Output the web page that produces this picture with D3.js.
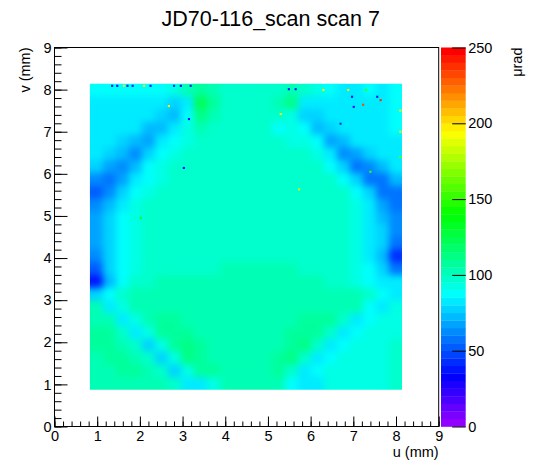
<!DOCTYPE html>
<html>
<head>
<meta charset="utf-8">
<script src="https://cdn.jsdelivr.net/npm/d3@7"></script>
<style>
body { margin: 0; background: #fff; }
text { font-family: "Liberation Sans", Arial, Helvetica, sans-serif; }
</style>
</head>
<body>
<script>
// histogram extent (mm) and coarse bin contents (urad), rows from top (high v) to bottom
var uRange = [0.83, 8.14];
var vRange = [0.87, 8.14];
var rows = [
  [86,86,87,87,88,89,92,100,108,102,97,96,96,96,98,100,96,90,86,84,84,85,84,88],
  [84,84,84,83,82,82,78,82,122,108,98,97,97,97,100,110,80,80,82,82,83,82,83,86],
  [83,82,82,82,80,77,72,86,112,102,97,97,97,97,95,92,75,78,82,82,82,83,82,86],
  [83,82,81,80,74,70,82,90,100,99,97,97,97,97,86,92,88,72,76,80,82,82,82,85],
  [82,80,78,72,66,80,88,94,97,97,97,97,97,97,96,94,90,85,68,72,80,82,82,84],
  [80,77,70,63,76,86,92,96,97,97,97,97,97,97,97,96,95,90,84,62,66,78,80,82],
  [75,68,60,74,85,92,95,97,97,97,97,97,97,97,97,97,96,95,88,76,58,62,74,80],
  [62,56,66,80,88,94,96,97,97,97,97,97,97,97,97,97,97,96,95,88,78,56,58,70],
  [54,64,78,86,92,96,97,97,97,97,97,97,97,97,97,97,97,97,96,95,88,76,56,58],
  [60,74,84,90,95,97,97,97,97,97,97,97,97,97,97,97,97,97,97,96,93,84,66,58],
  [66,78,86,92,96,97,98,98,98,98,98,98,98,98,98,98,98,98,97,96,92,84,72,60],
  [68,78,86,92,96,98,98,98,98,98,98,98,98,98,98,98,98,98,97,96,90,84,76,62],
  [66,78,86,92,96,98,98,98,98,98,98,98,98,98,98,98,98,98,97,95,90,84,76,56],
  [64,78,87,93,96,98,98,99,99,99,99,99,99,99,99,99,99,98,97,95,91,84,72,44],
  [52,76,87,94,97,99,99,99,99,99,100,100,100,100,100,100,99,99,98,96,92,85,76,56],
  [38,74,86,95,98,100,100,100,100,100,100,100,100,100,100,100,100,100,99,97,93,85,84,80],
  [78,88,98,100,101,101,101,101,101,101,101,101,101,101,101,101,102,102,101,100,100,96,85,84],
  [100,80,92,103,104,104,103,102,102,101,101,101,101,101,101,102,103,104,104,104,102,86,84,90],
  [104,100,80,90,104,106,106,104,102,101,101,101,101,101,102,104,105,105,106,96,84,88,90,92],
  [105,105,98,80,90,106,108,106,103,101,101,101,101,101,102,105,108,108,98,84,88,90,92,94],
  [105,106,104,96,79,90,108,110,106,102,101,101,101,101,103,108,110,98,83,88,90,92,93,95],
  [104,105,106,104,95,78,90,110,108,103,101,101,101,102,105,110,96,83,88,90,92,93,94,95],
  [104,104,105,105,104,95,76,90,108,106,102,101,101,103,106,98,82,88,90,91,92,93,94,95],
  [102,102,103,103,103,102,96,80,82,92,100,102,102,102,100,88,80,84,90,92,93,94,94,95]
];
// isolated noisy pixels: u, v, value
var hotU = [1.35,1.47,1.63,1.71,1.83,2.10,2.25,2.80,2.96,3.19,3.15,3.03,2.02,2.68,5.49,5.65,6.30,6.88,6.97,7.23,7.64,7.30,5.30,5.73,7.56,7.01,6.70,7.40,8.10,8.10,8.10];
var hotV = [8.09,8.09,8.09,8.09,8.09,8.09,8.09,8.09,8.09,8.09,7.30,6.14,4.95,7.61,8.01,8.01,7.99,7.99,7.83,7.64,7.75,7.99,7.42,5.63,7.83,7.59,7.19,6.05,7.50,7.00,6.40];
var hotZ = [35,30,190,35,35,195,35,40,30,35,35,35,140,190,35,35,190,195,35,230,235,150,190,180,35,20,40,150,190,195,160];

var xTicks = [0,1,2,3,4,5,6,7,8,9];
var yTicks = [0,1,2,3,4,5,6,7,8,9];
var zTicks = [0,50,100,150,200,250];
var zMax = 250, nColors = 50;

var W = 548, H = 474;
var svg = d3.select('body').append('svg')
  .attr('width', W)
  .attr('height', H);

var x = d3.scaleLinear().domain([0, 9]).range([54.5, 438.7]);
var y = d3.scaleLinear().domain([0, 9]).range([426.5, 47.5]);
var z = d3.scaleLinear().domain([0, zMax]).range([426.5, 47.5]);

// ROOT "pretty" palette: 50 hues from violet down to red
var palette = d3.range(nColors).map(function(i){
  return d3.hsl(280 - (i + 1) * 280 / nColors, 1, 0.5).formatHex();
});
var colorOf = function(v){
  var i = Math.floor(v / zMax * nColors);
  return palette[Math.max(0, Math.min(nColors - 1, i))];
};

var nU = rows[0].length, nV = rows.length;
var binU = d3.scaleLinear().domain([0, nU]).range(uRange);
var binV = d3.scaleLinear().domain([0, nV]).range([vRange[1], vRange[0]]);

var cells = [];
rows.forEach(function(row, r){
  row.forEach(function(val, c){
    cells.push({u0: binU(c), u1: binU(c + 1), v0: binV(r + 1), v1: binV(r), z: val});
  });
});

// soften the coarse bins a little, kept inside the filled area
var defs = svg.append('defs');
defs.append('clipPath').attr('id', 'dataClip').append('rect')
  .attr('x', x(uRange[0])).attr('y', y(vRange[1]))
  .attr('width', x(uRange[1]) - x(uRange[0]))
  .attr('height', y(vRange[0]) - y(vRange[1]));
var flt = defs.append('filter').attr('id', 'soft')
  .attr('x', '-5%').attr('y', '-5%').attr('width', '110%').attr('height', '110%')
  .attr('color-interpolation-filters', 'sRGB');
flt.append('feGaussianBlur').attr('stdDeviation', 3.5);
flt.append('feComponentTransfer').append('feFuncA').attr('type', 'linear').attr('slope', 60);

var plot = svg.append('g').attr('clip-path', 'url(#dataClip)');
plot.append('g').attr('filter', 'url(#soft)')
  .selectAll('rect.cell').data(cells)
  .enter().append('rect')
  .attr('class', 'cell')
  .attr('x', function(d){ return x(d.u0); })
  .attr('y', function(d){ return y(d.v1); })
  .attr('width', function(d){ return x(d.u1) - x(d.u0) + 0.4; })
  .attr('height', function(d){ return y(d.v0) - y(d.v1) + 0.4; })
  .attr('fill', function(d){ return colorOf(d.z); });

var hot = hotU.map(function(u, i){ return {u: u, v: hotV[i], z: hotZ[i]}; });
var px = 0.05;
plot.selectAll('rect.hot').data(hot)
  .enter().append('rect')
  .attr('class', 'hot')
  .attr('x', function(d){ return x(d.u - px / 2); })
  .attr('y', function(d){ return y(d.v + px / 2); })
  .attr('width', x(px) - x(0))
  .attr('height', y(0) - y(px))
  .attr('fill', function(d){ return colorOf(d.z); });

// frame
svg.append('rect')
  .attr('x', x(0)).attr('y', y(9))
  .attr('width', x(9) - x(0)).attr('height', y(0) - y(9))
  .attr('fill', 'none').attr('stroke', '#000').attr('stroke-width', 1);

var minor = function(n){ return d3.range(0, n * 5 + 1).map(function(i){ return i / 5; }); };

// x axis
svg.append('g')
  .attr('transform', 'translate(0,' + y(0) + ')')
  .call(d3.axisBottom(x).tickValues(minor(9)).tickSizeInner(-5).tickSizeOuter(0).tickFormat(''))
  .call(function(g){ g.select('.domain').remove(); });
svg.append('g')
  .attr('transform', 'translate(0,' + y(0) + ')')
  .call(d3.axisBottom(x).tickValues(xTicks).tickSizeInner(-10).tickSizeOuter(0).tickPadding(4).tickFormat(d3.format('d')))
  .call(function(g){ g.select('.domain').remove(); g.selectAll('text').attr('font-size', 14.5).attr('fill', '#000'); });

// y axis
svg.append('g')
  .attr('transform', 'translate(' + x(0) + ',0)')
  .call(d3.axisLeft(y).tickValues(minor(9)).tickSizeInner(-7).tickSizeOuter(0).tickFormat(''))
  .call(function(g){ g.select('.domain').remove(); });
svg.append('g')
  .attr('transform', 'translate(' + x(0) + ',0)')
  .call(d3.axisLeft(y).tickValues(yTicks).tickSizeInner(-13).tickSizeOuter(0).tickPadding(3).tickFormat(d3.format('d')))
  .call(function(g){ g.select('.domain').remove(); g.selectAll('text').attr('font-size', 14.5).attr('fill', '#000'); });

// palette
var bar = svg.append('g');
bar.selectAll('rect').data(palette)
  .enter().append('rect')
  .attr('x', 441)
  .attr('y', function(c, i){ return z((i + 1) * zMax / nColors); })
  .attr('width', 24.7)
  .attr('height', function(c, i){ return z(i * zMax / nColors) - z((i + 1) * zMax / nColors) + 0.3; })
  .attr('fill', function(c){ return c; });
svg.append('g')
  .attr('transform', 'translate(465.7,0)')
  .call(d3.axisRight(z).tickValues(zTicks).tickSizeInner(-13.5).tickSizeOuter(0).tickPadding(2.5))
  .call(function(g){ g.select('.domain').remove(); g.selectAll('text').attr('font-size', 14.5).attr('fill', '#000'); });

// titles
svg.append('text')
  .attr('x', 270.7).attr('y', 26)
  .attr('text-anchor', 'middle')
  .attr('font-size', 21.5)
  .text('JD70-116_scan scan 7');
svg.append('text')
  .attr('x', x(9)).attr('y', 456.5)
  .attr('text-anchor', 'end')
  .attr('font-size', 14.5)
  .text('u (mm)');
svg.append('text')
  .attr('transform', 'translate(30,' + y(9) + ') rotate(-90)')
  .attr('text-anchor', 'end')
  .attr('font-size', 14.5)
  .text('v (mm)');
svg.append('text')
  .attr('transform', 'translate(522,' + z(zMax) + ') rotate(-90)')
  .attr('text-anchor', 'end')
  .attr('font-size', 14.5)
  .text('μrad');
</script>
</body>
</html>
